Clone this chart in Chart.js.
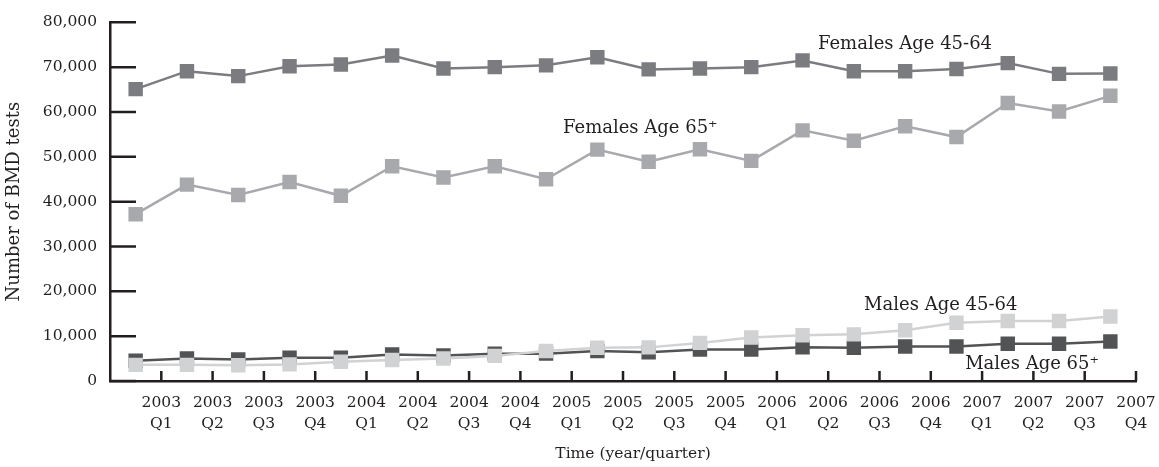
<!DOCTYPE html>
<html>
<head>
<meta charset="utf-8">
<script src="https://cdn.jsdelivr.net/npm/chart.js@4.4.1/dist/chart.umd.min.js"></script>
<style>
  html, body { margin: 0; padding: 0; background: #fff; }
  #wrap { width: 1159px; height: 467px; position: relative; }
</style>
</head>
<body>
<div id="wrap"><canvas id="bmd-chart"></canvas></div>
<script>
const quarters = [
  '2003 Q1', '2003 Q2', '2003 Q3', '2003 Q4',
  '2004 Q1', '2004 Q2', '2004 Q3', '2004 Q4',
  '2005 Q1', '2005 Q2', '2005 Q3', '2005 Q4',
  '2006 Q1', '2006 Q2', '2006 Q3', '2006 Q4',
  '2007 Q1', '2007 Q2', '2007 Q3', '2007 Q4'
];

const femalesAge45to64 = [65100, 69100, 68000, 70200, 70600, 72600, 69700, 70000, 70400, 72200,
                          69500, 69700, 70000, 71500, 69100, 69100, 69600, 70900, 68500, 68600];
const femalesAge65plus = [37200, 43800, 41500, 44400, 41300, 47900, 45400, 47900, 45000, 51600,
                          48900, 51700, 49100, 55900, 53600, 56800, 54400, 62000, 60100, 63600];
const malesAge45to64   = [3600, 3600, 3500, 3700, 4300, 4700, 5000, 5600, 6700, 7400,
                          7500, 8500, 9700, 10200, 10400, 11300, 13000, 13400, 13400, 14400];
const malesAge65plus   = [4500, 5000, 4800, 5200, 5200, 5900, 5700, 6100, 6100, 6700,
                          6400, 7000, 7000, 7500, 7400, 7700, 7700, 8300, 8300, 8800];

const yTicks = [0, 10000, 20000, 30000, 40000, 50000, 60000, 70000, 80000];

// series labels placed in data space: x = category index, y = baseline value
const seriesLabels = [
  { text: 'Females Age 45-64', x: 13.3, y: 74000 },
  { text: 'Females Age 65\u207A', x: 8.33, y: 55300 },
  { text: 'Males Age 45-64', x: 14.2, y: 15900 },
  { text: 'Males Age 65\u207A', x: 16.17, y: 2600 }
];

const ink = '#231f20';
const serif = "'DejaVu Serif', serif";

function series(data, color) {
  return {
    data: data,
    borderColor: color,
    borderWidth: 2.5,
    backgroundColor: color,
    pointStyle: 'rect',
    pointRadius: 10.2,
    pointBorderWidth: 0,
    pointBackgroundColor: color,
    tension: 0
  };
}

// inward tick marks, series labels and the x-axis title
const decorations = {
  id: 'decorations',
  afterDraw(chart) {
    const ctx = chart.ctx;
    const x = chart.scales.x;
    const y = chart.scales.y;
    const area = chart.chartArea;
    const half = (x.getPixelForValue(1) - x.getPixelForValue(0)) / 2;

    ctx.save();
    ctx.strokeStyle = ink;
    ctx.lineWidth = 2.5;
    ctx.beginPath();
    yTicks.forEach(v => {
      const py = y.getPixelForValue(v);
      ctx.moveTo(area.left, py);
      ctx.lineTo(area.left + 26, py);
    });
    for (let i = 1; i <= quarters.length; i++) {
      const px = x.getPixelForValue(i - 1) + half;
      ctx.moveTo(px, area.bottom);
      ctx.lineTo(px, area.bottom - 10);
    }
    ctx.stroke();

    ctx.fillStyle = ink;
    ctx.font = '18px ' + serif;
    ctx.textAlign = 'left';
    ctx.textBaseline = 'alphabetic';
    seriesLabels.forEach(l => {
      ctx.fillText(l.text, x.getPixelForValue(l.x), y.getPixelForValue(l.y));
    });

    ctx.font = '15.5px ' + serif;
    ctx.textAlign = 'center';
    ctx.textBaseline = 'middle';
    ctx.fillText('Time (year/quarter)', (area.left + area.right) / 2 + 10, 454);
    ctx.restore();
  }
};

const ctx = document.getElementById('bmd-chart').getContext('2d');
new Chart(ctx, {
  type: 'line',
  data: {
    labels: quarters.map(q => q.split(' ')),
    datasets: [
      series(femalesAge45to64, '#7b7c80'),
      series(femalesAge65plus, '#a8a9ad'),
      series(malesAge45to64, '#d1d2d4'),
      series(malesAge65plus, '#525355')
    ]
  },
  options: {
    responsive: true,
    maintainAspectRatio: false,
    animation: false,
    layout: { padding: { left: 4, right: 23, top: 18, bottom: 3 } },
    plugins: {
      legend: { display: false },
      tooltip: { enabled: false }
    },
    scales: {
      x: {
        type: 'category',
        offset: true,
        grid: { display: false, offset: true, drawTicks: false },
        border: { display: true, color: ink, width: 2.5 },
        ticks: {
          color: ink,
          font: { family: serif, size: 15.5, lineHeight: 1.35 },
          padding: 12,
          labelOffset: 25.65,
          maxRotation: 0,
          autoSkip: false
        },
        afterFit(scale) { scale.height = 83; }
      },
      y: {
        min: 0,
        max: 80000,
        grid: { display: false, drawTicks: false },
        border: { display: true, color: ink, width: 2.5 },
        ticks: {
          stepSize: 10000,
          color: ink,
          font: { family: serif, size: 15.5 },
          padding: 13,
          callback: v => v.toLocaleString('en-US')
        },
        title: {
          display: true,
          text: 'Number of BMD tests',
          color: ink,
          font: { family: serif, size: 18 },
          padding: 0
        },
        afterFit(scale) { scale.width = 106; }
      }
    }
  },
  plugins: [decorations]
});
</script>
</body>
</html>
